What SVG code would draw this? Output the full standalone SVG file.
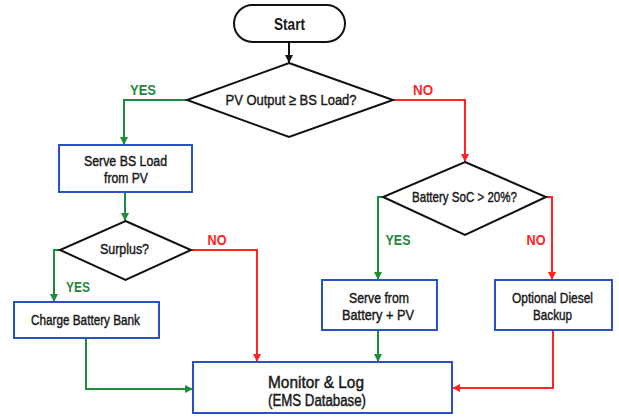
<svg xmlns="http://www.w3.org/2000/svg" width="619" height="417" viewBox="0 0 619 417">
<defs>
<marker id="ak" viewBox="0 0 10 10" refX="10" refY="5" markerWidth="8" markerHeight="8" markerUnits="userSpaceOnUse" orient="auto"><path d="M0,0 L10,5 L0,10 Z" fill="#111"/></marker>
<marker id="ag" viewBox="0 0 10 10" refX="10" refY="5" markerWidth="8" markerHeight="8" markerUnits="userSpaceOnUse" orient="auto"><path d="M0,0 L10,5 L0,10 Z" fill="#1e8c3a"/></marker>
<marker id="ar" viewBox="0 0 10 10" refX="10" refY="5" markerWidth="8" markerHeight="8" markerUnits="userSpaceOnUse" orient="auto"><path d="M0,0 L10,5 L0,10 Z" fill="#ff2424"/></marker>
<style>
text{font-family:"Liberation Sans",Arial,sans-serif;text-anchor:middle;fill:#1a1a1a;font-size:15.5px;stroke:#1a1a1a;stroke-width:0.45}
.box{fill:#fff;stroke:#2b50c2;stroke-width:2}
.dia{fill:#fff;stroke:#111;stroke-width:2}
.term{fill:#fff;stroke:#111;stroke-width:2}
.c{fill:none;stroke-width:2}
.g{stroke:#1e8c3a}
.r{stroke:#ff2424}
.k{stroke:#111}
text.yes{fill:#1e8c3a;stroke:none;font-weight:bold;font-size:15.5px}
text.no{fill:#ff2424;stroke:none;font-weight:bold;font-size:15.5px}
.big{font-size:16px}
</style>
</defs>
<rect width="619" height="417" fill="#fff"/>
<g id="connectors">
<path class="c k" d="M289,42 V63" marker-end="url(#ak)"/>
<path class="c g" d="M187,100 H124 V145" marker-end="url(#ag)"/>
<path class="c r" d="M393,100 H465 V162" marker-end="url(#ar)"/>
<path class="c g" d="M125,192 V221" marker-end="url(#ag)"/>
<path class="c g" d="M60,250 H54 V302" marker-end="url(#ag)"/>
<path class="c r" d="M191,250 H257 V362" marker-end="url(#ar)"/>
<path class="c g" d="M86,338 V389 H193" marker-end="url(#ag)"/>
<path class="c g" d="M383,197 H378 V280" marker-end="url(#ag)"/>
<path class="c r" d="M546,197 H552 V280" marker-end="url(#ar)"/>
<path class="c g" d="M378,330 V362" marker-end="url(#ag)"/>
<path class="c r" d="M553,330 V388 H452" marker-end="url(#ar)"/>
<text class="yes" x="143" y="95" textLength="26" lengthAdjust="spacingAndGlyphs">YES</text>
<text class="no" x="423" y="95" textLength="20" lengthAdjust="spacingAndGlyphs">NO</text>
<text class="no" x="217" y="245" textLength="19" lengthAdjust="spacingAndGlyphs">NO</text>
<text class="yes" x="78" y="292" textLength="24" lengthAdjust="spacingAndGlyphs">YES</text>
<text class="yes" x="398" y="245" textLength="25" lengthAdjust="spacingAndGlyphs">YES</text>
<text class="no" x="536" y="245" textLength="19" lengthAdjust="spacingAndGlyphs">NO</text>
</g>
<g id="start">
<rect class="term" x="234" y="5" width="111" height="37" rx="18.5"/>
<text x="289.5" y="30" style="font-weight:bold;font-size:16.5px;stroke:none" textLength="31" lengthAdjust="spacingAndGlyphs">Start</text>
</g>
<g id="pv-check">
<polygon class="dia" points="289,63 393,100 289,137 187,100"/>
<text x="291" y="105" textLength="131" lengthAdjust="spacingAndGlyphs">PV Output ≥ BS Load?</text>
</g>
<g id="serve-pv">
<rect class="box" x="59" y="145" width="133" height="47"/>
<text x="125.5" y="166" textLength="83" lengthAdjust="spacingAndGlyphs">Serve BS Load</text>
<text x="126" y="183" textLength="44" lengthAdjust="spacingAndGlyphs">from PV</text>
</g>
<g id="surplus">
<polygon class="dia" points="125.5,221 191,250 125.5,280 60,250"/>
<text x="124.5" y="254" textLength="49" lengthAdjust="spacingAndGlyphs">Surplus?</text>
</g>
<g id="charge">
<rect class="box" x="14" y="302" width="145" height="36"/>
<text x="85.5" y="325" textLength="109" lengthAdjust="spacingAndGlyphs">Charge Battery Bank</text>
</g>
<g id="soc-check">
<polygon class="dia" points="465,162 546,197 465,235 383,197"/>
<text x="464.5" y="202" textLength="105" lengthAdjust="spacingAndGlyphs">Battery SoC &gt; 20%?</text>
</g>
<g id="serve-batt">
<rect class="box" x="322" y="280" width="115" height="50"/>
<text x="379" y="303" textLength="60" lengthAdjust="spacingAndGlyphs">Serve from</text>
<text x="378" y="320" textLength="72" lengthAdjust="spacingAndGlyphs">Battery + PV</text>
</g>
<g id="diesel">
<rect class="box" x="495" y="280" width="117" height="50"/>
<text x="552.5" y="303" textLength="81" lengthAdjust="spacingAndGlyphs">Optional Diesel</text>
<text x="552.5" y="320" textLength="39" lengthAdjust="spacingAndGlyphs">Backup</text>
</g>
<g id="monitor">
<rect class="box" x="193" y="362" width="259" height="51"/>
<text class="big" x="316" y="387.5" textLength="96" lengthAdjust="spacingAndGlyphs">Monitor &amp; Log</text>
<text class="big" x="317" y="405.5" textLength="98" lengthAdjust="spacingAndGlyphs">(EMS Database)</text>
</g>
</svg>
